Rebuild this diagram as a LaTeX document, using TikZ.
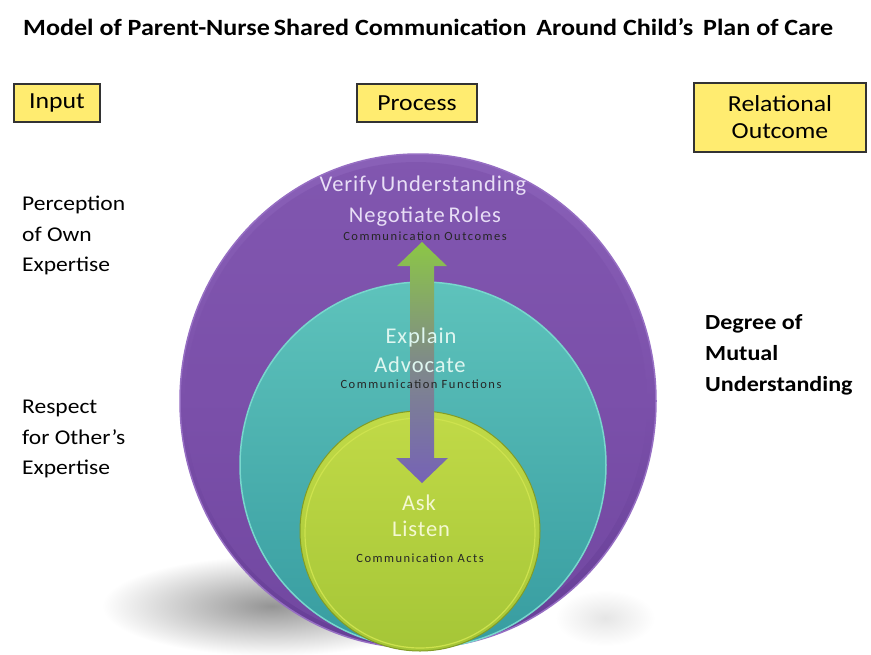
\documentclass[tikz,border=0pt]{standalone}
\usepackage{fontspec}
\setmainfont{Carlito}[FakeStretch=1.12]
\newfontfamily\circfont{Carlito}[LetterSpace=4]
\newfontfamily\smallfont{Carlito}[LetterSpace=12]
\usetikzlibrary{shadings,shapes.geometric}
\definecolor{boxyellow}{RGB}{255,236,112}
\definecolor{purpmain}{RGB}{123,80,170}
\definecolor{purpdark}{RGB}{102,62,150}
\definecolor{purplight}{RGB}{150,110,195}
\definecolor{tealmain}{RGB}{76,188,180}
\definecolor{tealdark}{RGB}{55,156,160}
\definecolor{teallight}{RGB}{120,215,205}
\definecolor{greenmain}{RGB}{165,198,55}
\definecolor{greenlight}{RGB}{205,226,78}
\definecolor{greendark}{RGB}{130,156,38}
\definecolor{arrowgreen}{RGB}{140,198,70}
\definecolor{arrowpurp}{RGB}{118,98,182}
\definecolor{txtlav}{RGB}{232,222,246}
\definecolor{txtcyan}{RGB}{222,246,240}
\definecolor{txtyel}{RGB}{244,248,210}
\tikzset{
  labelbox/.style={draw=black!80, line width=1.2pt, fill=boxyellow, font=\fontsize{23}{27}\selectfont, align=center, inner sep=0pt},
  sidetext/.style={font=\fontsize{21}{30.5}\selectfont, align=left, anchor=north west, inner sep=0pt},
  bigtext/.style={font=\circfont\fontsize{22.5}{26}\selectfont, anchor=base, inner sep=0pt},
  smalltext/.style={font=\smallfont\fontsize{12.5}{14}\selectfont, anchor=base, inner sep=0pt, text=black!85}
}
\begin{document}
\begin{tikzpicture}[x=1pt,y=-1pt]
\useasboundingbox (0,0) rectangle (871,654);
\fill[white] (0,0) rectangle (871,654);
% title
\node[anchor=base west, inner sep=0pt, font=\bfseries\fontsize{23.3}{26}\selectfont] (title) at (23,35) {Model of Parent-Nurse\,Shared Communication\, Around Child’s\, Plan of Care};
% header boxes
\node[labelbox, minimum width=86pt, minimum height=38pt] (input) at (57,103) {Input};
\node[labelbox, minimum width=120pt, minimum height=38pt] (process) at (417,103) {Process};
\node[labelbox, minimum width=172pt, minimum height=69pt] (outcome) at (780,117.5) {Relational\\Outcome};
% shadow
\shade[inner color=black!42, outer color=white] (272,606) ellipse [x radius=170, y radius=50];
\shade[inner color=black!10, outer color=white] (605,618) ellipse [x radius=50, y radius=28];
% circles
\node[ellipse, minimum width=476pt, minimum height=494pt, inner sep=0pt, top color=purplight!55!purpmain, bottom color=purpdark, middle color=purpmain, draw=purplight, line width=1.5pt] (outer) at (418,401) {};
\node[ellipse, minimum width=462pt, minimum height=480pt, inner sep=0pt, fill=purpmain, opacity=0.55] (outerin) at (416,402) {};
\node[circle, minimum size=366pt, inner sep=0pt, top color=tealmain!90!white, bottom color=tealdark, draw=teallight, line width=1.5pt] (middle) at (423,465) {};
\node[circle, minimum size=240pt, inner sep=0pt, top color=greenlight!70!greenmain, bottom color=greenmain, draw=greendark, line width=1pt] (inner) at (420,531) {};
\node[circle, minimum size=230pt, inner sep=0pt, draw=greenlight, line width=1.2pt] (innerrim) at (420,533) {};
% double arrow
\coordinate (atop) at (422,242);
\coordinate (abot) at (422,483);
\shade[top color=arrowgreen, bottom color=arrowpurp, middle color=arrowgreen!40!arrowpurp]
  (atop) -- ++(25,24) -- ++(-13,0) -- (434,458) -- ++(14,0) -- (abot) -- ++(-26,-25) -- ++(14,0) -- (410,266) -- ++(-13,0) -- cycle;
% circle texts
\node[bigtext, text=txtlav] (t1) at (423,191) {Verify\,Understanding};
\node[bigtext, text=txtlav] (t2) at (425,222) {Negotiate\,Roles};
\node[smalltext] (t3) at (425,240) {Communication Outcomes};
\node[bigtext, text=txtcyan] (t4) at (421,343) {Explain};
\node[bigtext, text=txtcyan] (t5) at (420,372) {Advocate};
\node[smalltext] (t6) at (421,388) {Communication Functions};
\node[bigtext, text=txtyel] (t7) at (419,510) {Ask};
\node[bigtext, text=txtyel] (t8) at (421,536) {Listen};
\node[smalltext] (t9) at (420,562) {Communication Acts};
% side texts
\node[sidetext] (perc) at (22,196) {Perception\\of Own\\Expertise};
\node[sidetext] (resp) at (22,400) {Respect\\for Other’s\\Expertise};
\node[sidetext, font=\bfseries\fontsize{21.5}{31}\selectfont] (deg) at (705,314) {Degree of\\Mutual\\Understanding};
\end{tikzpicture}
\end{document}
